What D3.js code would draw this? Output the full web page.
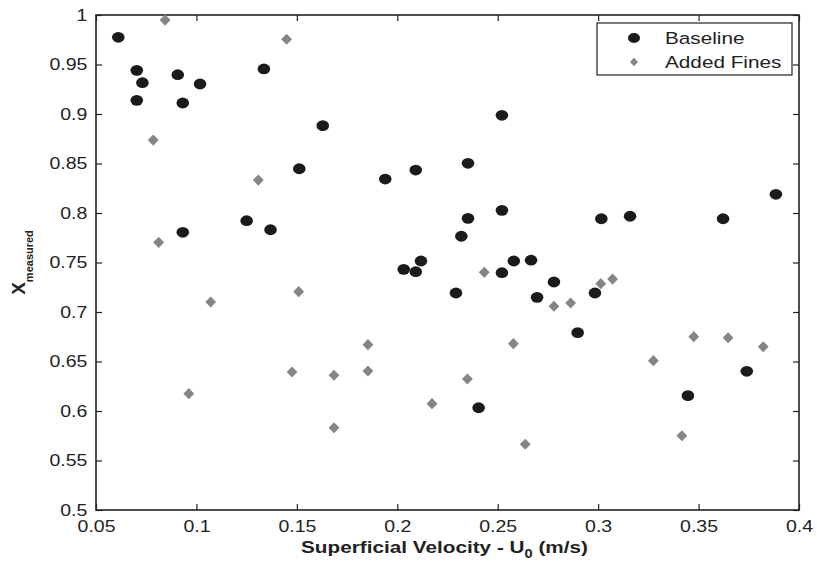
<!DOCTYPE html>
<html>
<head>
<meta charset="utf-8">
<script src="https://cdn.jsdelivr.net/npm/d3@7"></script>
<style>
  body { margin: 0; background: #fff; }
  text { font-family: "Liberation Sans", Arial, sans-serif; fill: #222; }
</style>
</head>
<body>
<div id="chart"></div>
<script>
// data
var baselineX = [0.0611, 0.0703, 0.0731, 0.0703, 0.0907, 0.0932, 0.1018, 0.1336, 0.1629, 0.1512,
  0.1940, 0.2092, 0.2352, 0.2521, 0.3885, 0.0932, 0.1250, 0.1369, 0.2032, 0.2092,
  0.2118, 0.2319, 0.2352, 0.2521, 0.2521, 0.2580, 0.2666, 0.2292, 0.2696, 0.2780,
  0.2984, 0.2898, 0.3016, 0.3159, 0.3622, 0.3740, 0.3447, 0.2405];
var baselineY = [0.9775, 0.9441, 0.9316, 0.9138, 0.9397, 0.9111, 0.9303, 0.9455, 0.8882, 0.8447,
  0.8343, 0.8434, 0.8502, 0.8987, 0.8189, 0.7805, 0.7922, 0.7831, 0.7431, 0.7407,
  0.7515, 0.7765, 0.7946, 0.8027, 0.7397, 0.7515, 0.7523, 0.7192, 0.7148, 0.7303,
  0.7192, 0.6791, 0.7942, 0.7967, 0.7942, 0.6401, 0.6155, 0.6033];

var finesX = [0.0844, 0.0785, 0.1308, 0.1449, 0.0812, 0.1071, 0.1509, 0.1476, 0.1685, 0.1854,
  0.1854, 0.1685, 0.0962, 0.2173, 0.2349, 0.2433, 0.2578, 0.2637, 0.2780, 0.2863,
  0.3013, 0.3072, 0.3275, 0.3476, 0.3647, 0.3822, 0.3417];
var finesY = [0.9949, 0.8737, 0.8333, 0.9755, 0.7704, 0.7101, 0.7205, 0.6394, 0.6361, 0.6670,
  0.6404, 0.5831, 0.6175, 0.6074, 0.6323, 0.7401, 0.6680, 0.5664, 0.7058, 0.7091,
  0.7286, 0.7333, 0.6508, 0.6751, 0.6740, 0.6649, 0.5750];

var xTicks = [0.05, 0.1, 0.15, 0.2, 0.25, 0.3, 0.35, 0.4];
var yTicks = [0.5, 0.55, 0.6, 0.65, 0.7, 0.75, 0.8, 0.85, 0.9, 0.95, 1];
var seriesNames = ["Baseline", "Added Fines"];

var W = 817, H = 567;
var margin = {top: 15, right: 18, bottom: 57, left: 96};
var width = W - margin.left - margin.right;
var height = H - margin.top - margin.bottom;
var stretch = 1.22;   // the picture is a bit wide, text too
var black = "#1b1b1b", grey = "#858587";

var svg = d3.select("#chart").append("svg").attr("width", W).attr("height", H);
var g = svg.append("g").attr("transform", "translate(" + margin.left + "," + margin.top + ")");

var x = d3.scaleLinear().domain([0.05, 0.4]).range([0, width]);
var y = d3.scaleLinear().domain([0.5, 1]).range([height, 0]);

function fmt(d) { return String(+d.toFixed(2)); }

// axes, matlab style: ticks inside on all four sides
var xAxis = g.append("g").attr("transform", "translate(0," + height + ")")
  .call(d3.axisBottom(x).tickValues(xTicks).tickFormat(fmt).tickSizeInner(-6).tickSizeOuter(0).tickPadding(11));
var xTop = g.append("g")
  .call(d3.axisTop(x).tickValues(xTicks).tickFormat("").tickSizeInner(-6).tickSizeOuter(0));
var yAxis = g.append("g")
  .call(d3.axisLeft(y).tickValues(yTicks).tickFormat(fmt).tickSizeInner(-6).tickSizeOuter(0).tickPadding(6));
var yRight = g.append("g").attr("transform", "translate(" + width + ",0)")
  .call(d3.axisRight(y).tickValues(yTicks).tickFormat("").tickSizeInner(-6).tickSizeOuter(0));

[xAxis, xTop, yAxis, yRight].forEach(function (a) {
  a.selectAll(".domain").remove();
  a.selectAll("line").attr("stroke", "#222").attr("stroke-width", 1.2);
});
xAxis.selectAll("text").attr("font-size", 16).attr("fill", "#222")
  .attr("transform", "scale(" + stretch + ",1)");
yAxis.selectAll("text").attr("font-size", 16).attr("fill", "#222")
  .attr("transform", "translate(" + (-6 * (stretch - 1)) + ",0) scale(" + stretch + ",1)");

g.append("rect").attr("width", width).attr("height", height)
  .attr("fill", "none").attr("stroke", "#222").attr("stroke-width", 1.6);

// points
var baseData = baselineX.map(function (v, i) { return {x: v, y: baselineY[i]}; });
var finesData = finesX.map(function (v, i) { return {x: v, y: finesY[i]}; });

var diamond = "M0,-5.6L5.4,0L0,5.6L-5.4,0Z";

g.append("g").selectAll("path").data(finesData).enter().append("path")
  .attr("d", diamond)
  .attr("transform", function (d) { return "translate(" + x(d.x) + "," + y(d.y) + ")"; })
  .attr("fill", grey);

g.append("g").selectAll("ellipse").data(baseData).enter().append("ellipse")
  .attr("cx", function (d) { return x(d.x); })
  .attr("cy", function (d) { return y(d.y); })
  .attr("rx", 6.3).attr("ry", 5.4)
  .attr("fill", black);

// axis titles
var xt = svg.append("text")
  .attr("transform", "translate(" + (margin.left + width / 2 - 3) + ",553) scale(" + stretch + ",1)")
  .attr("text-anchor", "middle").attr("font-size", 17).attr("font-weight", "bold");
xt.append("tspan").text("Superficial Velocity - U");
xt.append("tspan").attr("font-size", 12).attr("dy", 5).text("0");
xt.append("tspan").attr("dy", -5).text(" (m/s)");

var yt = svg.append("text")
  .attr("transform", "translate(25," + (margin.top + height / 2) + ") rotate(-90)")
  .attr("text-anchor", "middle").attr("font-weight", "bold");
yt.append("tspan").attr("font-size", 19).text("X");
yt.append("tspan").attr("font-size", 11).attr("dy", 8).text("measured");

// legend
var leg = svg.append("g").attr("transform", "translate(597,23)");
leg.append("rect").attr("width", 195).attr("height", 52)
  .attr("fill", "#fff").attr("stroke", "#222").attr("stroke-width", 1.2);
leg.append("ellipse").attr("cx", 37).attr("cy", 15).attr("rx", 6).attr("ry", 5).attr("fill", black);
leg.append("path").attr("d", "M0,-4.2L4,0L0,4.2L-4,0Z").attr("transform", "translate(37,39)").attr("fill", grey);
seriesNames.forEach(function (name, i) {
  leg.append("text")
    .attr("transform", "translate(68," + (21 + i * 24) + ") scale(" + stretch + ",1)")
    .attr("font-size", 17).text(name);
});
</script>
</body>
</html>
